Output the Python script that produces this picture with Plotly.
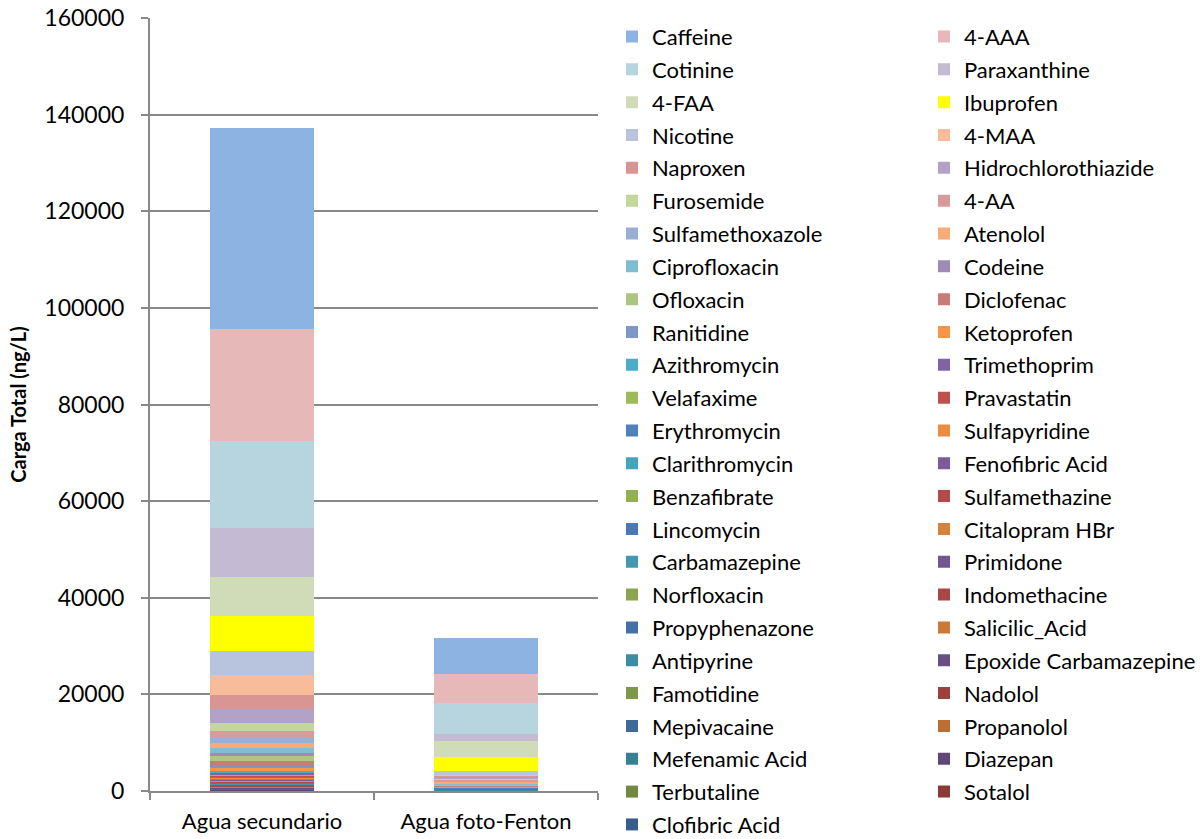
import plotly.graph_objects as go

# x categories
categories = ["Agua secundario", "Agua foto-Fenton"]

# compounds in legend order (top of each stack first)
compounds = [
    "Caffeine", "4-AAA", "Cotinine", "Paraxanthine", "4-FAA", "Ibuprofen",
    "Nicotine", "4-MAA", "Naproxen", "Hidrochlorothiazide", "Furosemide", "4-AA",
    "Sulfamethoxazole", "Atenolol", "Ciprofloxacin", "Codeine", "Ofloxacin", "Diclofenac",
    "Ranitidine", "Ketoprofen", "Azithromycin", "Trimethoprim", "Velafaxime", "Pravastatin",
    "Erythromycin", "Sulfapyridine", "Clarithromycin", "Fenofibric Acid", "Benzafibrate",
    "Sulfamethazine", "Lincomycin", "Citalopram HBr", "Carbamazepine", "Primidone",
    "Norfloxacin", "Indomethacine", "Propyphenazone", "Salicilic_Acid", "Antipyrine",
    "Epoxide Carbamazepine", "Famotidine", "Nadolol", "Mepivacaine", "Propanolol",
    "Mefenamic Acid", "Diazepan", "Terbutaline", "Sotalol", "Clofibric Acid",
]

# load per compound (ng/L), same order as compounds
agua_secundario = [
    41600, 23180, 18080, 10140, 7930, 7440,
    4900, 4140, 2960, 2840, 1710, 1450,
    890, 1180, 1030, 620, 890, 1030,
    560, 480, 350, 350, 280, 250,
    230, 220, 200, 190, 180,
    170, 160, 150, 140, 130,
    120, 110, 105, 100, 95,
    90, 85, 80, 75, 70,
    65, 60, 55, 50, 45,
]
agua_foto_fenton = [
    7510, 5930, 6350, 1520, 3310, 2820,
    950, 150, 350, 300, 150, 200,
    150, 450, 150, 100, 200, 100,
    100, 80, 60, 40, 50, 30,
    40, 30, 40, 25, 30,
    25, 30, 25, 40, 30,
    25, 20, 25, 30, 25,
    20, 20, 20, 20, 20,
    20, 20, 20, 15, 15,
]

colors = [
    "#8DB3E2", "#E6B9B8", "#B7D5DF", "#C4BBD3", "#D0DBB8", "#FFFF00",
    "#B8C4DE", "#F9BC9A", "#D99594", "#B2A2C7", "#C3D69B", "#D69B9A",
    "#9BAFD4", "#F7AB79", "#7FBDD0", "#9E8CB6", "#AEC684", "#C97B7A",
    "#7C98C6", "#F79646", "#4BACC6", "#8064A2", "#9BBB59", "#C0504D",
    "#4F81BD", "#EB8C3F", "#46A3BC", "#795C98", "#93B153",
    "#B54B48", "#4A79B3", "#D9803A", "#4298AF", "#71568F",
    "#8AA54E", "#A94743", "#4571A7", "#CC7836", "#3E8CA3",
    "#684F84", "#7F9848", "#9C413E", "#40689A", "#BC6E32",
    "#397F93", "#5E4878", "#728941", "#8D3A37", "#3A5E8C",
]

GRID = "#898989"
FONT = "Lato"
W, H = 1202, 839

# legend layout: two columns, each cut into blocks of BLOCK rows
LEG_SIZE = 22
ROW_STEP = 32.83
FIRST_ROW_Y = 36.5
ITEM_H = LEG_SIZE * 1.3 + 3
COL_TEXT_X = [652, 964]
BLOCK = 9
N_BLOCKS = 3


def legend_id(col, block):
    n = col * N_BLOCKS + block + 1
    return "legend" if n == 1 else f"legend{n}"


def legend_for(k):
    col, row = k % 2, k // 2
    return legend_id(col, row // BLOCK)


def legend_box(col, block):
    first_row = block * BLOCK
    top = FIRST_ROW_Y + first_row * ROW_STEP - 5 - ITEM_H / 2
    return dict(
        xref="container", yref="container",
        x=(COL_TEXT_X[col] - 40) / W, y=1 - top / H,
        xanchor="left", yanchor="top",
        orientation="v",
        traceorder="grouped",
        tracegroupgap=ROW_STEP - ITEM_H,
        font=dict(family=FONT, size=LEG_SIZE, color="#000000"),
        bgcolor="rgba(0,0,0,0)",
        borderwidth=0,
    )


fig = go.Figure()
# stack from the bottom up: last compound first
for k in reversed(range(len(compounds))):
    fig.add_trace(go.Bar(
        x=categories,
        y=[agua_secundario[k], agua_foto_fenton[k]],
        name=compounds[k],
        legendgroup=compounds[k],
        legendrank=k + 1,
        legend=legend_for(k),
        marker=dict(color=colors[k], line=dict(width=0)),
    ))

legends = {}
for col in range(2):
    for block in range(N_BLOCKS):
        legends[legend_id(col, block)] = legend_box(col, block)

fig.update_layout(
    width=W, height=H,
    barmode="stack",
    bargap=0.54,
    plot_bgcolor="#FFFFFF",
    paper_bgcolor="#FFFFFF",
    margin=dict(l=150, r=604, t=18, b=48, autoexpand=False),
    font=dict(family=FONT, color="#000000"),
    xaxis=dict(
        showline=True, linecolor=GRID, linewidth=2,
        ticks="outside", tickson="boundaries", ticklen=7, tickwidth=2, tickcolor=GRID,
        tickfont=dict(family=FONT, size=22, color="#000000"),
        ticklabelstandoff=10,
        showgrid=False,
    ),
    yaxis=dict(
        range=[0, 160000], dtick=20000, tickformat="d",
        showline=True, linecolor=GRID, linewidth=2,
        ticks="outside", ticklen=7, tickwidth=2, tickcolor=GRID,
        showgrid=True, gridcolor=GRID, gridwidth=2,
        zeroline=False,
        tickfont=dict(family=FONT, size=23, color="#000000"),
        ticklabelstandoff=12,
        title=dict(text="<b>Carga Total (ng/L)</b>", standoff=12,
                   font=dict(family=FONT, size=20, color="#000000")),
    ),
    **legends,
)

fig.write_html("out.html")
